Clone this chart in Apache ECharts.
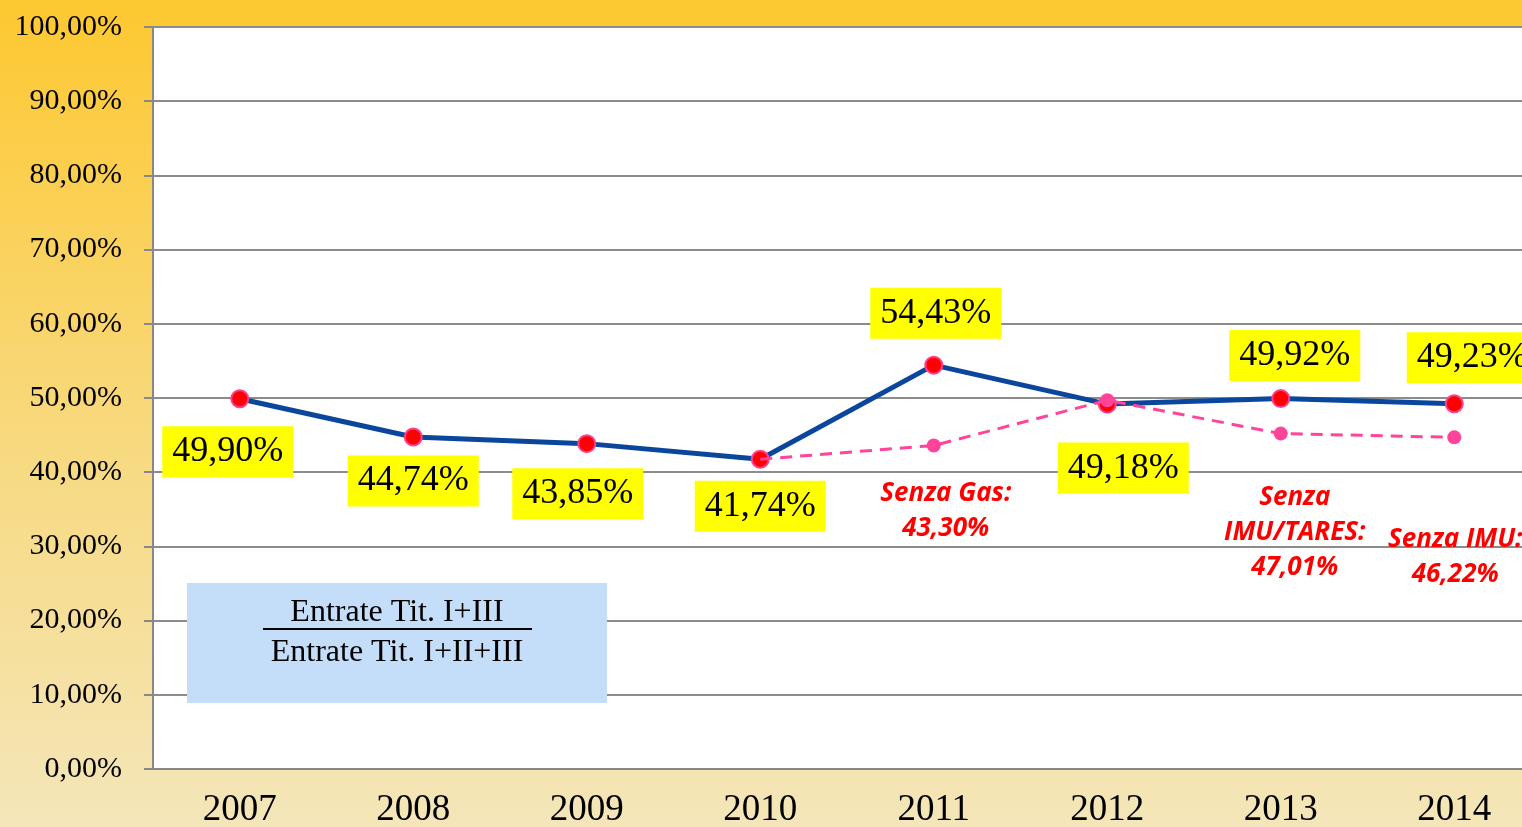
<!DOCTYPE html>
<html>
<head>
<meta charset="utf-8">
<script src="https://cdn.jsdelivr.net/npm/echarts@6/dist/echarts.min.js"></script>
<style>
  html, body { margin: 0; padding: 0; }
  #chart { width: 1522px; height: 827px; }
</style>
</head>
<body>
<div id="chart"></div>
<script>
var years = ['2007', '2008', '2009', '2010', '2011', '2012', '2013', '2014']
var indice = [49.90, 44.74, 43.85, 41.74, 54.43, 49.18, 49.92, 49.23]
// senza le entrate straordinarie
var indiceSenza = [null, null, null, 41.74, 43.6, 49.7, 45.2, 44.7]
var noteSenza = ['', '', '', '', 'Senza Gas:\n43,30%', '', 'Senza\nIMU/TARES:\n47,01%', 'Senza IMU:\n46,22%']

// spostamento delle etichette gialle rispetto al punto
var labelOffset = [[-12, 53], [0, 44], [-9, 50], [0, 47], [2, -52], [16, 64], [14, -43], [18, -46]]
var noteOffset = [[0, 0], [0, 0], [0, 0], [0, 0], [12, 66], [0, 0], [14, 99], [1, 120]]

function pct(v) {
  return v.toFixed(2).replace('.', ',') + '%'
}

var chart = echarts.init(document.getElementById('chart'))

var mainData = indice.map(function (v, i) {
  return {
    value: v,
    label: { offset: labelOffset[i] }
  }
})

var senzaData = indiceSenza.map(function (v, i) {
  if (v === null) return null
  var item = { value: v, label: { show: noteSenza[i] !== '', offset: noteOffset[i] } }
  if (i === 3) item.symbol = 'none'
  return item
})

chart.setOption({
  backgroundColor: {
    type: 'linear', x: 0, y: 0, x2: 0, y2: 1,
    colorStops: [
      { offset: 0, color: '#FDC830' },
      { offset: 0.5, color: '#F8D87A' },
      { offset: 1, color: '#F4E6BA' }
    ]
  },
  animation: false,
  grid: {
    left: 153, right: -19, top: 27, bottom: 58,
    outerBoundsMode: 'none',
    containLabel: false,
    show: true, backgroundColor: '#fff', borderWidth: 0
  },
  xAxis: {
    type: 'category',
    data: years,
    boundaryGap: true,
    axisLine: { lineStyle: { color: '#888', width: 2 } },
    axisTick: { length: 10, lineStyle: { color: '#888', width: 2 } },
    axisLabel: {
      color: '#000', fontFamily: 'Liberation Serif', fontSize: 37, margin: 23
    }
  },
  yAxis: {
    type: 'value',
    min: 0, max: 100, interval: 10,
    axisLine: { show: true, lineStyle: { color: '#888', width: 2 } },
    axisTick: { show: true, length: 9, lineStyle: { color: '#888', width: 2 } },
    splitLine: { lineStyle: { color: '#8c8c8c', width: 2 } },
    axisLabel: {
      color: '#000', fontFamily: 'Liberation Serif', fontSize: 30, margin: 31,
      formatter: function (v) { return pct(v) }
    }
  },
  series: [
    {
      type: 'line',
      data: mainData,
      z: 3,
      symbol: 'circle',
      symbolSize: 17,
      lineStyle: { color: '#0A479C', width: 5 },
      itemStyle: { color: '#FF0000', borderColor: '#FF4090', borderWidth: 2 },
      label: {
        show: true,
        position: 'inside',
        formatter: function (p) { return pct(p.value) },
        backgroundColor: '#FFFF00',
        color: '#000',
        fontFamily: 'Liberation Serif',
        fontSize: 36,
        lineHeight: 37,
        padding: [8, 10, 6, 10]
      }
    },
    {
      type: 'line',
      data: senzaData,
      z: 4,
      symbol: 'circle',
      symbolSize: 14,
      lineStyle: { color: '#FF4499', width: 3, type: [12, 8] },
      itemStyle: { color: '#FF4499' },
      label: {
        position: 'inside',
        formatter: function (p) { return noteSenza[p.dataIndex] },
        color: '#FF0000',
        fontFamily: 'Open Sans',
        fontStyle: 'italic',
        fontWeight: 'bold',
        fontSize: 26,
        lineHeight: 35,
        align: 'center'
      }
    }
  ],
  graphic: [
    {
      type: 'rect', z: 10,
      shape: { x: 187, y: 583, width: 420, height: 120 },
      style: { fill: '#C4DEFA' }
    },
    {
      type: 'text', z: 11, x: 397, y: 613,
      style: {
        text: 'Entrate Tit. I+III', fill: '#000', font: '32px "Liberation Serif"',
        align: 'center', verticalAlign: 'middle'
      }
    },
    {
      type: 'line', z: 11,
      shape: { x1: 263, y1: 629, x2: 532, y2: 629 },
      style: { stroke: '#000', lineWidth: 2 }
    },
    {
      type: 'text', z: 11, x: 397, y: 653,
      style: {
        text: 'Entrate Tit. I+II+III', fill: '#000', font: '32px "Liberation Serif"',
        align: 'center', verticalAlign: 'middle'
      }
    }
  ]
})
</script>
</body>
</html>
